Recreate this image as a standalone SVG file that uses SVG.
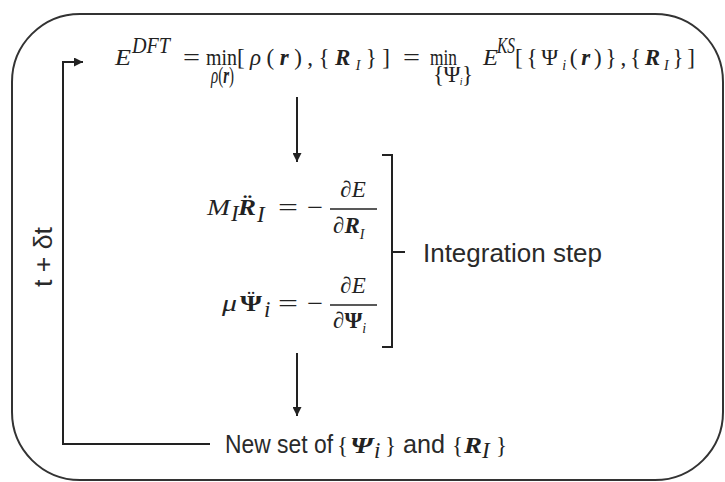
<svg xmlns="http://www.w3.org/2000/svg" width="725" height="482" viewBox="0 0 725 482">
<style>
  .m { font-family: "Liberation Serif", "Times New Roman", serif; font-size: 23px; fill: #222; }
  .mi { font-family: "Liberation Serif", "Times New Roman", serif; font-size: 23px; font-style: italic; fill: #222; }
  .sans { font-family: "Liberation Sans", Arial, sans-serif; font-size: 25px; fill: #2a2a2a; }
  .bi { font-weight: bold; font-style: italic; }
  .it { font-style: italic; }
  .b { font-weight: bold; }
  .ln { fill: none; stroke: #222; stroke-width: 2; }
  .border { fill: #fff; stroke: #333; stroke-width: 2; }
</style>
<defs>
  <marker id="ah" viewBox="0 0 10 10" refX="10" refY="5" markerWidth="9" markerHeight="9" markerUnits="userSpaceOnUse" orient="auto">
    <path d="M0,0 L10,5 L0,10 z" fill="#222"/>
  </marker>
</defs>

<rect id="frame" class="border" x="12" y="14" width="711" height="466" rx="68" ry="68"/>

<g id="connectors">
  <path class="ln" d="M210,444 H63 V62 H83" marker-end="url(#ah)"/>
  <line class="ln" x1="297" y1="97" x2="297" y2="162" marker-end="url(#ah)"/>
  <line class="ln" x1="297" y1="353" x2="297" y2="416" marker-end="url(#ah)"/>
  <path class="ln" d="M382,155 H392 V347 H382 M392,252 H405"/>
</g>

<g id="loop-label">
  <text class="sans" font-size="22" transform="translate(52,257) rotate(-90)" text-anchor="middle" textLength="60" lengthAdjust="spacingAndGlyphs">t + δt</text>
</g>

<g id="energy">
  <text x="115" y="65" class="mi" textLength="16" lengthAdjust="spacingAndGlyphs">E</text>
  <text x="132" y="53" class="mi" font-size="15" textLength="38" lengthAdjust="spacingAndGlyphs">DFT</text>
  <text x="183" y="65" class="m" textLength="17" lengthAdjust="spacingAndGlyphs">=</text>
  <text x="206" y="65" class="m" textLength="31" lengthAdjust="spacingAndGlyphs">min</text>
  <text x="211" y="83" class="m" font-size="14" textLength="23" lengthAdjust="spacingAndGlyphs"><tspan class="it">ρ</tspan>(<tspan class="bi">r</tspan>)</text>
  <text x="237" y="65" class="m" textLength="153">[<tspan class="it">ρ</tspan>(<tspan class="bi">r</tspan>),{<tspan class="bi">R</tspan><tspan class="it" font-size="14" dy="5">I</tspan><tspan dy="-5">}]</tspan></text>
  <text x="403" y="65" class="m" textLength="17" lengthAdjust="spacingAndGlyphs">=</text>
  <text x="430" y="65" class="m" textLength="27" lengthAdjust="spacingAndGlyphs">min</text>
  <text x="433" y="82" class="m" font-size="14" textLength="40">{Ψ<tspan class="it" font-size="10" dy="3">i</tspan><tspan dy="-3">}</tspan></text>
  <text x="483" y="65" class="mi" textLength="15" lengthAdjust="spacingAndGlyphs">E</text>
  <text x="497" y="53" class="mi" font-size="15" textLength="18" lengthAdjust="spacingAndGlyphs">KS</text>
  <text x="515" y="65" class="m" textLength="180">[{Ψ<tspan class="it" font-size="14" dy="5">i</tspan><tspan dy="-5">(</tspan><tspan class="bi">r</tspan>)},{<tspan class="bi">R</tspan><tspan class="it" font-size="14" dy="5">I</tspan><tspan dy="-5">}]</tspan></text>
</g>

<g id="equations">
  <text x="207" y="215" class="mi" font-size="22" textLength="23" lengthAdjust="spacingAndGlyphs">M</text>
  <text x="231" y="221" class="mi" font-size="14">I</text>
  <text x="238" y="215" class="m bi" font-size="22" textLength="18" lengthAdjust="spacingAndGlyphs">R̈</text>
  <text x="257" y="222" class="mi" font-size="14">I</text>
  <text x="278" y="215" class="m" font-size="22" textLength="20" lengthAdjust="spacingAndGlyphs">=</text>
  <text x="307" y="215" class="m" font-size="22" textLength="16" lengthAdjust="spacingAndGlyphs">−</text>
  <line x1="330" y1="209" x2="377" y2="209" stroke="#222" stroke-width="1.5"/>
  <text x="353" y="197" class="mi" font-size="22" text-anchor="middle">∂E</text>
  <text x="333" y="233" class="mi" font-size="22">∂<tspan class="bi">R</tspan><tspan font-size="14" dy="6">I</tspan></text>

  <text x="222" y="311" class="mi" font-size="22" textLength="15" lengthAdjust="spacingAndGlyphs">μ</text>
  <text x="240" y="311" class="m b" font-size="22" textLength="22" lengthAdjust="spacingAndGlyphs">Ψ</text>
  <text x="251" y="306" class="m" font-size="22" text-anchor="middle">¨</text>
  <text x="264" y="317" class="mi" font-size="14">i</text>
  <text x="278" y="311" class="m" font-size="22" textLength="20" lengthAdjust="spacingAndGlyphs">=</text>
  <text x="307" y="311" class="m" font-size="22" textLength="16" lengthAdjust="spacingAndGlyphs">−</text>
  <line x1="330" y1="305" x2="377" y2="305" stroke="#222" stroke-width="1.5"/>
  <text x="353" y="293" class="mi" font-size="22" text-anchor="middle">∂E</text>
  <text x="333" y="328" class="mi" font-size="22">∂<tspan class="b" font-style="normal">Ψ</tspan><tspan font-size="14" dy="5">i</tspan></text>
</g>

<g id="integration">
  <text x="423" y="262" class="sans" textLength="179" lengthAdjust="spacingAndGlyphs">Integration step</text>
</g>

<g id="newset">
  <text x="225" y="453" class="sans" textLength="108" lengthAdjust="spacingAndGlyphs">New set of</text>
  <text x="337" y="453" class="m" font-size="25">{</text>
  <text x="350" y="453" class="m bi" font-size="24" textLength="23" lengthAdjust="spacingAndGlyphs">Ψ</text>
  <text x="374" y="458" class="mi" font-size="14">i</text>
  <text x="385" y="453" class="m" font-size="25">}</text>
  <text x="403" y="453" class="sans" textLength="42" lengthAdjust="spacingAndGlyphs">and</text>
  <text x="452" y="453" class="m" font-size="25">{</text>
  <text x="464" y="453" class="m bi" font-size="24" textLength="18" lengthAdjust="spacingAndGlyphs">R</text>
  <text x="482" y="458" class="mi" font-size="14">I</text>
  <text x="496" y="453" class="m" font-size="25">}</text>
</g>
</svg>
